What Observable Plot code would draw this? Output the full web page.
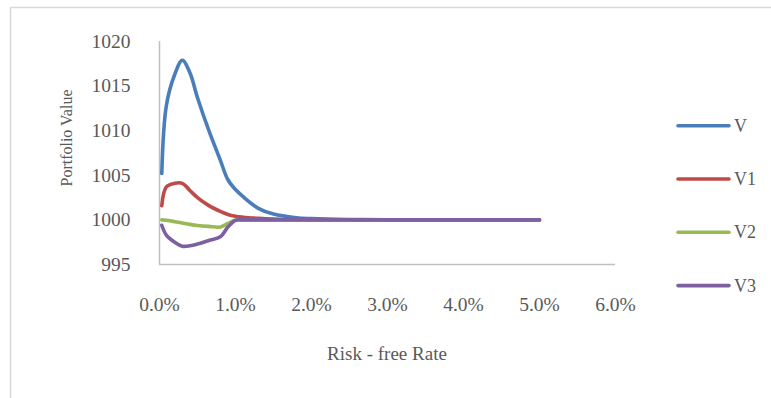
<!DOCTYPE html>
<html>
<head>
<meta charset="utf-8">
<script src="https://cdn.jsdelivr.net/npm/d3@7"></script>
<script src="https://cdn.jsdelivr.net/npm/@observablehq/plot@0.6"></script>
<style>
  html, body { margin: 0; padding: 0; background: #fff; }
  #chart svg { display: block; }
</style>
</head>
<body>
<div id="chart"></div>
<script>
// Risk-free rate (as a fraction) at which each portfolio was valued
const rates = [0.0003, 0.0009, 0.002, 0.003, 0.004, 0.005, 0.0065, 0.008, 0.009, 0.010, 0.011, 0.013, 0.015, 0.018, 0.020, 0.025, 0.030, 0.040, 0.050];

// Portfolio values for each strategy
const V  = [1005.2, 1012.8, 1016.3, 1017.9, 1016.5, 1013.7, 1010.0, 1006.7, 1004.5, 1003.4, 1002.6, 1001.3, 1000.65, 1000.25, 1000.15, 1000.05, 1000.02, 1000.0, 1000.0];
const V1 = [1001.6, 1003.7, 1004.1, 1004.1, 1003.3, 1002.5, 1001.6, 1000.95, 1000.6, 1000.4, 1000.3, 1000.18, 1000.1, 1000.05, 1000.03, 1000.01, 1000.0, 1000.0, 1000.0];
const V2 = [1000.0, 999.97, 999.8, 999.65, 999.5, 999.38, 999.27, 999.2, 999.6, 999.98, 1000.0, 1000.0, 1000.0, 1000.0, 1000.0, 1000.0, 1000.0, 1000.0, 1000.0];
const V3 = [999.4, 998.3, 997.5, 997.05, 997.1, 997.3, 997.7, 998.1, 999.2, 999.95, 1000.0, 1000.0, 1000.0, 1000.0, 1000.0, 1000.0, 1000.0, 1000.0, 1000.0];

const seriesNames = ["V", "V1", "V2", "V3"];
const seriesValues = [V, V1, V2, V3];
const seriesColors = ["#4a7ebb", "#be4b48", "#98b954", "#7d60a0"];

const xTicks = [0, 0.01, 0.02, 0.03, 0.04, 0.05, 0.06];
const yTicks = [995, 1000, 1005, 1010, 1015, 1020];

const xTitle = "Risk - free Rate";
const yTitle = "Portfolio Value";

// Long-format table for the line mark
const rows = seriesNames.flatMap((name, s) =>
  rates.map((r, i) => ({ series: name, rate: r, value: seriesValues[s][i] }))
);

const W = 771, H = 398;
const font = "'Liberation Serif', 'Times New Roman', serif";
const textColor = "#595959";
const axisColor = "#bfbfbf";

const plot = Plot.plot({
  width: W,
  height: H,
  marginLeft: 159,
  marginRight: 156,
  marginTop: 41,
  marginBottom: 134,
  style: { fontFamily: font, fontSize: "20px", color: textColor, background: "#fff", overflow: "visible" },
  x: { domain: [0, 0.06], label: null },
  y: { domain: [995, 1020], label: null },
  color: { domain: seriesNames, range: seriesColors },
  marks: [
    Plot.axisY({ ticks: yTicks, tickFormat: d3.format("d"), tickSize: 0, tickPadding: 29, label: null, fill: textColor, fontSize: 19.5 }),
    Plot.axisX({ ticks: xTicks, tickFormat: d3.format(".1%"), tickSize: 0, tickPadding: 33, label: null, fill: textColor, fontSize: 19.5 }),
    Plot.ruleX([0], { stroke: axisColor, strokeWidth: 1.5 }),
    Plot.ruleY([995], { stroke: axisColor, strokeWidth: 1.5 }),
    Plot.line(rows, {
      x: "rate", y: "value", z: "series", stroke: "series",
      curve: "catmull-rom", strokeWidth: 3.6, strokeLinecap: "round", strokeLinejoin: "round"
    })
  ]
});

document.getElementById("chart").appendChild(plot);

const svg = d3.select(plot);

// Outer chart frame
svg.insert("rect", ":first-child")
  .attr("x", 10.5).attr("y", 7.5)
  .attr("width", W + 20).attr("height", H + 20)
  .attr("fill", "none").attr("stroke", "#d9d9d9").attr("stroke-width", 1.5);

// Axis titles
svg.append("text")
  .attr("transform", "translate(66,138) rotate(-90)")
  .attr("text-anchor", "middle").attr("dominant-baseline", "central")
  .attr("font-family", font).attr("font-size", 16).attr("fill", textColor)
  .text(yTitle);

svg.append("text")
  .attr("x", 387).attr("y", 353)
  .attr("text-anchor", "middle").attr("dominant-baseline", "central")
  .attr("font-family", font).attr("font-size", 19).attr("fill", textColor)
  .text(xTitle);

// Legend on the right
const legend = svg.append("g");
seriesNames.forEach((name, i) => {
  const y = 125.7 + i * 53.3;
  legend.append("line")
    .attr("x1", 678).attr("x2", 729).attr("y1", y).attr("y2", y)
    .attr("stroke", seriesColors[i]).attr("stroke-width", 3.6).attr("stroke-linecap", "round");
  legend.append("text")
    .attr("x", 734).attr("y", y)
    .attr("text-anchor", "start").attr("dominant-baseline", "central")
    .attr("font-family", font).attr("font-size", 18).attr("fill", textColor)
    .text(name);
});
</script>
</body>
</html>
